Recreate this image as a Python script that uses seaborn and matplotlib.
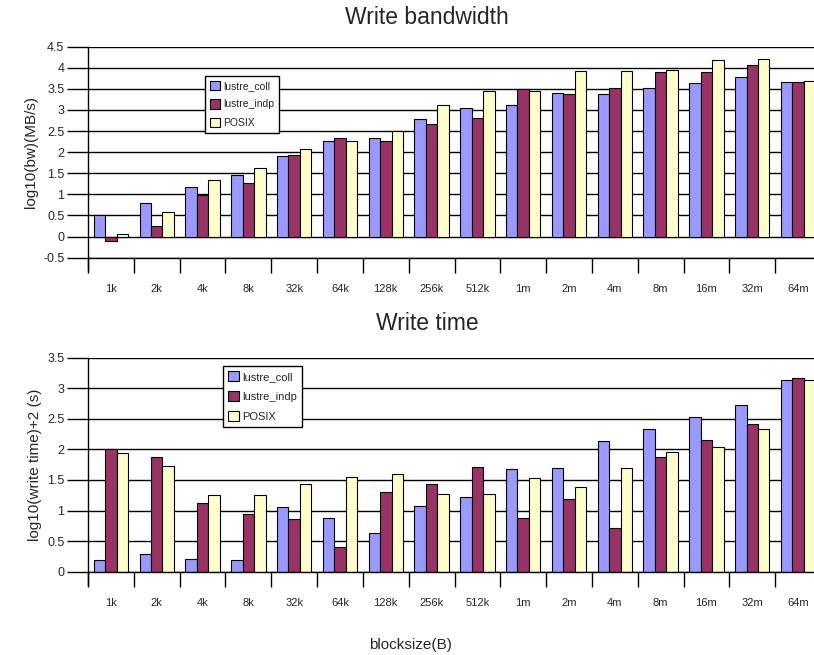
import numpy as np
import pandas as pd
import matplotlib
matplotlib.use("Agg")
import matplotlib.pyplot as plt
from matplotlib.ticker import FuncFormatter, MultipleLocator
import seaborn as sns

sns.set_style("white")
plt.rcParams["font.family"] = ["Liberation Sans", "DejaVu Sans"]

# data
blocksizes = ["1k", "2k", "4k", "8k", "32k", "64k", "128k", "256k",
              "512k", "1m", "2m", "4m", "8m", "16m", "32m", "64m"]
series = ["lustre_coll", "lustre_indp", "POSIX"]

bw_coll = [0.50, 0.80, 1.17, 1.45, 1.90, 2.27, 2.33, 2.79,
           3.05, 3.13, 3.41, 3.38, 3.53, 3.64, 3.78, 3.66]
bw_indp = [-0.11, 0.26, 0.99, 1.26, 1.94, 2.33, 2.27, 2.68,
           2.81, 3.50, 3.38, 3.53, 3.89, 3.89, 4.07, 3.66]
bw_posix = [0.06, 0.58, 1.34, 1.63, 2.08, 2.27, 2.50, 3.13,
            3.44, 3.46, 3.93, 3.93, 3.95, 4.19, 4.21, 3.69]

t_coll = [0.19, 0.29, 0.21, 0.19, 1.06, 0.88, 0.63, 1.08,
          1.22, 1.68, 1.70, 2.14, 2.33, 2.53, 2.73, 3.14]
t_indp = [2.00, 1.88, 1.12, 0.94, 0.86, 0.41, 1.30, 1.43,
          1.71, 0.88, 1.19, 0.72, 1.88, 2.15, 2.41, 3.16]
t_posix = [1.94, 1.73, 1.25, 1.25, 1.43, 1.55, 1.59, 1.27,
           1.27, 1.53, 1.39, 1.70, 1.96, 2.04, 2.33, 3.14]

COLORS = ["#9999FF", "#993366", "#FFFFCC"]


def long_df(a, b, c):
    rows = []
    for name, vals in zip(series, [a, b, c]):
        for bs, v in zip(blocksizes, vals):
            rows.append({"blocksize": bs, "series": name, "value": v})
    return pd.DataFrame(rows)


W, H = 814, 655
fig = plt.figure(figsize=(W / 100, H / 100), dpi=100)

# axes placed in pixel terms (plot area runs slightly past the right edge)
left, right = 88, 821
ax1 = fig.add_axes([left / W, (H - 257.7) / H, (right - left) / W, (257.7 - 46.7) / H])
ax2 = fig.add_axes([left / W, (H - 571.7) / H, (right - left) / W, (571.7 - 357.7) / H])

panels = [
    (ax1, long_df(bw_coll, bw_indp, bw_posix), (-0.5, 4.5), "Write bandwidth", 18,
     "log10(bw)(MB/s)", (205 / W, 1 - 76 / H), 7.5, 0.8),
    (ax2, long_df(t_coll, t_indp, t_posix), (0, 3.5), "Write time", 323,
     "log10(write time)+2 (s)", (223 / W, 1 - 366 / H), 8, 0.85),
]

for ax, df, ylim, title, title_y, ylabel, leg_pos, leg_fs, leg_sp in panels:
    sns.barplot(data=df, x="blocksize", y="value", hue="series", order=blocksizes,
                hue_order=series, palette=COLORS, saturation=1, width=0.75, gap=0,
                edgecolor="black", linewidth=0.8, ax=ax, errorbar=None)
    ax.set_xlim(-0.5, 15.5)
    ax.set_ylim(*ylim)
    ax.yaxis.set_major_locator(MultipleLocator(0.5))
    ax.yaxis.set_major_formatter(FuncFormatter(lambda v, p: f"{v:g}"))
    ax.set_axisbelow(True)
    ax.yaxis.grid(True, color="black", linewidth=1.0)
    ax.xaxis.grid(False)
    for s in ["top", "right"]:
        ax.spines[s].set_visible(False)
    for s in ["left", "bottom"]:
        ax.spines[s].set_color("black")
        ax.spines[s].set_linewidth(1.0)
    ax.spines["left"].set_bounds(ylim[0] - (ylim[1] - ylim[0]) * 0.06, ylim[1])

    # category boundary ticks, labels centred in between
    ax.set_xticks(np.arange(-0.5, 16, 1.0), minor=True)
    ax.set_xticks(range(len(blocksizes)))
    ax.set_xticklabels(blocksizes, fontsize=8)
    ax.tick_params(axis="x", which="major", length=0, pad=19)
    ax.tick_params(axis="x", which="minor", length=11, width=1, color="black",
                   direction="out", bottom=True)
    ax.tick_params(axis="y", which="major", length=15, width=1, color="black",
                   direction="out", left=True, labelsize=9, pad=2)
    ax.set_xlabel("")
    ax.set_ylabel(ylabel, fontsize=11, labelpad=4)
    fig.text(427 / W, 1 - title_y / H, title, ha="center", va="center", fontsize=16.5)

    handles, labels = ax.get_legend_handles_labels()
    ax.legend(handles, labels, loc="upper left", bbox_to_anchor=leg_pos,
              bbox_transform=fig.transFigure, frameon=True, fancybox=False,
              edgecolor="black", framealpha=1, fontsize=leg_fs,
              handlelength=1.0, handleheight=1.0, handletextpad=0.3,
              borderpad=0.45, labelspacing=leg_sp, borderaxespad=0)
    ax.get_legend().get_frame().set_linewidth(1.0)

fig.text(410 / W, 1 - 645 / H, "blocksize(B)", ha="center", va="center", fontsize=11)

fig.savefig("out.png", dpi=100)
